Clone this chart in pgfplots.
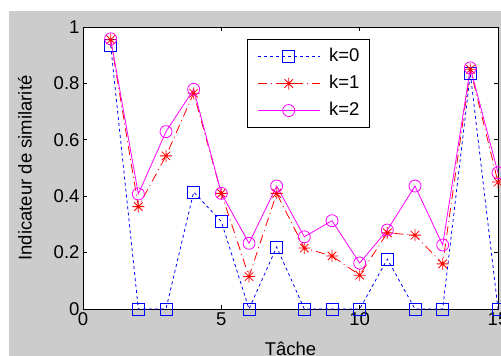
\documentclass[border=0pt]{standalone}
\usepackage{pgfplots}
\pgfplotsset{compat=1.18}
\usepackage{fontspec}
\setmainfont{Liberation Sans}
\definecolor{mlgray}{RGB}{204,204,204}
\definecolor{mlblue}{RGB}{0,0,255}
\definecolor{mlred}{RGB}{255,0,0}
\definecolor{mlmag}{RGB}{255,0,255}
\pgfdeclareplotmark{mstar}{%
 \pgfpathmoveto{\pgfqpoint{-\pgfplotmarksize}{0pt}}\pgfpathlineto{\pgfqpoint{\pgfplotmarksize}{0pt}}%
 \pgfpathmoveto{\pgfqpoint{0pt}{-\pgfplotmarksize}}\pgfpathlineto{\pgfqpoint{0pt}{\pgfplotmarksize}}%
 \pgfpathmoveto{\pgfqpoint{-.707\pgfplotmarksize}{-.707\pgfplotmarksize}}\pgfpathlineto{\pgfqpoint{.707\pgfplotmarksize}{.707\pgfplotmarksize}}%
 \pgfpathmoveto{\pgfqpoint{-.707\pgfplotmarksize}{.707\pgfplotmarksize}}\pgfpathlineto{\pgfqpoint{.707\pgfplotmarksize}{-.707\pgfplotmarksize}}%
 \pgfusepathqstroke}
\newcommand{\mlfont}{\fontsize{18.5}{22}\selectfont}
\begin{document}
\begin{tikzpicture}
\useasboundingbox (0pt,0pt) rectangle (501pt,356pt);
\clip (0pt,0pt) rectangle (501pt,356pt);
\fill[white] (0pt,0pt) rectangle (501pt,356pt);
\fill[mlgray] (9pt,0pt) rectangle (501pt,345pt);
\begin{axis}[
  at={(83pt,47pt)}, anchor=south west,
  width=415pt, height=282pt, scale only axis,
  xmin=0, xmax=15, ymin=0, ymax=1,
  xtick={0,5,10,15}, xticklabels={0,5,10,15},
  ytick={0,0.2,0.4,0.6,0.8,1}, yticklabels={0,0.2,0.4,0.6,0.8,1},
  tick align=inside, tick pos=both, major tick length=4pt,
  axis line style={line width=0.8pt},
  every tick/.style={black, line width=0.8pt},
  axis background/.style={fill=white},
  clip=false,
  /pgf/number format/assume math mode=true,
  tick label style={font=\mlfont},
  label style={font=\mlfont},
  xlabel={Tâche},
  xlabel style={at={(axis description cs:0.5,-0.118)}, anchor=north, inner sep=0pt},
  ylabel={Indicateur de similarité},
  ylabel style={at={(axis description cs:-0.14,0.5)}, anchor=center, inner sep=0pt},
  legend style={at={(rel axis cs:0.395,0.957)}, anchor=north west,
    draw=black, line width=0.8pt, fill=white, font=\mlfont,
    inner xsep=10pt, inner ysep=8.5pt, row sep=10pt,
    nodes={inner sep=0pt, text height=13pt, text depth=4pt},
    /tikz/every odd column/.style={column sep=9pt}},
  legend cell align=left,
  legend image code/.code={\draw[mark repeat=2,mark phase=2,#1] plot coordinates {(0pt,0pt) (31pt,0pt) (62pt,0pt)};},
]
\addplot[mlblue, line width=0.8pt, dash pattern=on 3pt off 3pt, mark=square, mark size=6pt, mark options={solid, line width=0.8pt}]
 coordinates {(1,0.935) (2,0) (3,0) (4,0.415) (5,0.31) (6,0) (7,0.22) (8,0) (9,0) (10,0) (11,0.177) (12,0) (13,0) (14,0.835) (15,0)};
\addlegendentry{k=0}
\addplot[mlred, line width=0.8pt, dash pattern=on 9pt off 4pt on 1pt off 4pt, mark=mstar, mark size=6pt, mark options={solid, line width=0.8pt}]
 coordinates {(1,0.955) (2,0.363) (3,0.543) (4,0.765) (5,0.41) (6,0.115) (7,0.41) (8,0.216) (9,0.188) (10,0.12) (11,0.27) (12,0.262) (13,0.16) (14,0.85) (15,0.45)};
\addlegendentry{k=1}
\addplot[mlmag, line width=0.8pt, mark=o, mark size=6pt, mark options={solid, line width=0.8pt}]
 coordinates {(1,0.958) (2,0.408) (3,0.629) (4,0.779) (5,0.41) (6,0.233) (7,0.436) (8,0.256) (9,0.313) (10,0.163) (11,0.28) (12,0.436) (13,0.227) (14,0.855) (15,0.483)};
\addlegendentry{k=2}
\end{axis}
\end{tikzpicture}
\end{document}
